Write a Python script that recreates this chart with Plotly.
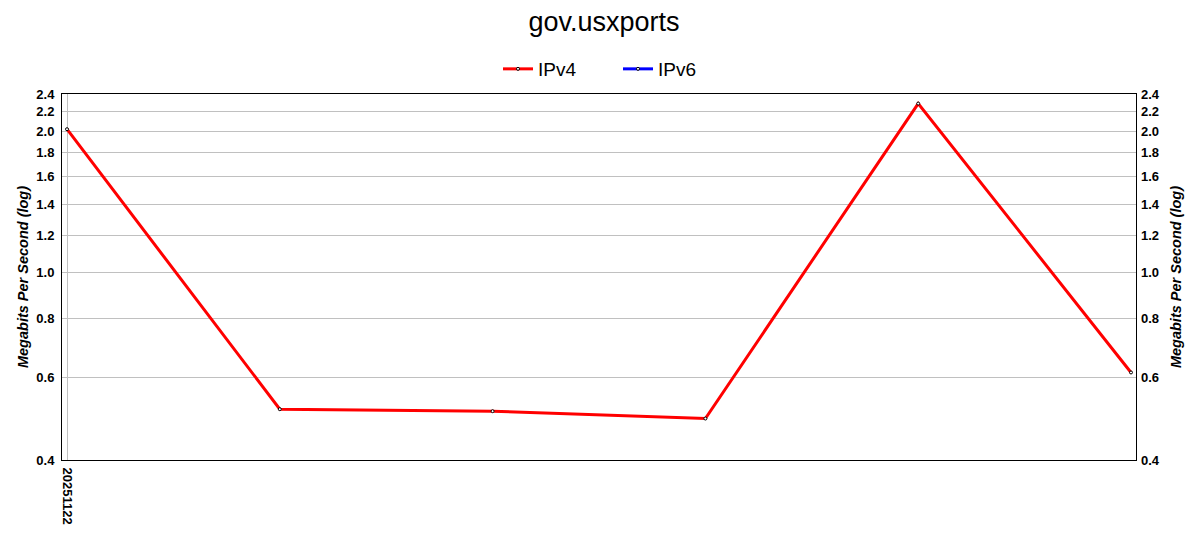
import math
import plotly.graph_objects as go

dates = ["20251122", "", "", "", "", ""]
ipv4 = [2.02, 0.513, 0.508, 0.490, 2.29, 0.614]
ipv6 = [None, None, None, None, None, None]
tick_vals = [0.4, 0.6, 0.8, 1.0, 1.2, 1.4, 1.6, 1.8, 2.0, 2.2, 2.4]
tick_text = ["0.4", "0.6", "0.8", "1.0", "1.2", "1.4", "1.6", "1.8", "2.0", "2.2", "2.4"]

xs = list(range(len(ipv4)))
marker = dict(size=3, color="white", line=dict(color="black", width=1))

fig = go.Figure()
fig.add_trace(go.Scatter(x=xs, y=ipv4, name="IPv4", mode="lines+markers",
                         line=dict(color="#ff0000", width=3), marker=marker))
fig.add_trace(go.Scatter(x=xs, y=ipv6, name="IPv6", mode="lines+markers",
                         line=dict(color="#0000ff", width=3), marker=marker))
fig.add_trace(go.Scatter(x=xs, y=ipv4, yaxis="y2", mode="lines", showlegend=False,
                         line=dict(width=0), opacity=0, hoverinfo="skip"))

tickfont = dict(family="Liberation Sans, Arial, sans-serif", size=13, color="black", weight="bold")
titlefont = dict(family="Liberation Sans, Arial, sans-serif", size=14.5, color="black", weight="bold", style="italic")
yrange = [math.log10(0.4), math.log10(2.4)]

# page body has an 8px offset; figure sized to fit the window
W, H, OFF = 1192, 542, 8

fig.update_layout(
    width=W, height=H,
    paper_bgcolor="white", plot_bgcolor="white",
    margin=dict(l=62 - OFF, r=64, t=94 - OFF, b=90, autoexpand=False),
    title=dict(text="gov.usxports", x=0.5, xanchor="center", y=1 - (22 - OFF) / H, yanchor="middle",
               yref="container",
               font=dict(family="Liberation Sans, Arial, sans-serif", size=27, color="black")),
    legend=dict(orientation="h", x=(498 - OFF) / W, xanchor="left", xref="container",
                y=1 - (69 - OFF) / H, yanchor="middle", yref="container",
                font=dict(family="Liberation Sans, Arial, sans-serif", size=19, color="black"),
                entrywidth=75, entrywidthmode="pixels"),
    xaxis=dict(range=[-0.0235, 5.0235], tickmode="array", tickvals=[0], ticktext=[dates[0]],
               tickangle=90, tickfont=tickfont, showgrid=True, gridcolor="#c0c0c0", gridwidth=1,
               showline=True, linecolor="black", linewidth=1, mirror=True, zeroline=False, ticks="",
               ticklabelstandoff=4, automargin=False),
    yaxis=dict(type="log", range=yrange, tickmode="array", tickvals=tick_vals, ticktext=tick_text,
               tickfont=tickfont, showgrid=True, gridcolor="#c0c0c0", gridwidth=1,
               showline=True, linecolor="black", linewidth=1, mirror=True, zeroline=False,
               ticks="", ticklabelstandoff=4, automargin=False,
               title=dict(text="Megabits Per Second (log)", font=titlefont, standoff=4)),
    yaxis2=dict(type="log", range=yrange, tickmode="array", tickvals=tick_vals, ticktext=tick_text,
                tickfont=tickfont, overlaying="y", side="right", showgrid=False, zeroline=False,
                ticks="", ticklabelstandoff=4, automargin=False,
                title=dict(text="Megabits Per Second (log)", font=titlefont, standoff=12)),
)

fig.write_html("out.html")
